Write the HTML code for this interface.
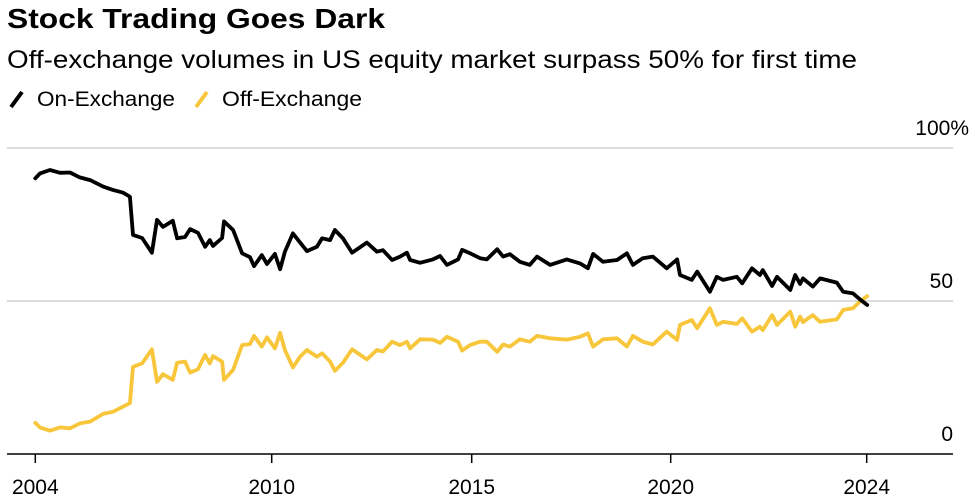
<!DOCTYPE html>
<html><head><meta charset="utf-8"><style>
body{margin:0;background:#fff;width:972px;height:502px;overflow:hidden;font-family:"Liberation Sans",Arial,sans-serif}
svg{display:block}
</style></head><body>
<svg id="chart" width="972" height="502" viewBox="0 0 972 502" xmlns="http://www.w3.org/2000/svg">
<text x="7" y="28" font-size="28" font-weight="bold" fill="#000" textLength="378" lengthAdjust="spacingAndGlyphs" font-family="Liberation Sans, sans-serif">Stock Trading Goes Dark</text>
<text x="7" y="68" font-size="25" fill="#000" textLength="850" lengthAdjust="spacingAndGlyphs" font-family="Liberation Sans, sans-serif">Off-exchange volumes in US equity market surpass 50% for first time</text>
<g>
<line x1="11" y1="107" x2="22" y2="92" stroke="#000" stroke-width="4"/>
<text x="37" y="106" font-size="21" fill="#000" textLength="138" lengthAdjust="spacingAndGlyphs" font-family="Liberation Sans, sans-serif">On-Exchange</text>
<line x1="196" y1="107" x2="207" y2="92" stroke="#f7c63a" stroke-width="4"/>
<text x="222" y="106" font-size="21" fill="#000" textLength="140" lengthAdjust="spacingAndGlyphs" font-family="Liberation Sans, sans-serif">Off-Exchange</text>
</g>
<g id="grid"></g>
<g id="xaxis"></g>
<g id="series"></g>
</svg>
<script>
const dates=[2004.0,2004.12,2004.37,2004.63,2004.88,2005.13,2005.39,2005.72,2005.97,2006.23,2006.4,2006.48,2006.71,2006.96,2007.09,2007.24,2007.49,2007.6,2007.8,2007.93,2008.13,2008.31,2008.43,2008.51,2008.74,2008.79,2009.02,2009.25,2009.45,2009.55,2009.75,2009.88,2010.08,2010.21,2010.33,2010.53,2010.71,2010.88,2011.13,2011.26,2011.46,2011.58,2011.78,2012.01,2012.38,2012.63,2012.78,2013.01,2013.21,2013.38,2013.46,2013.71,2014.03,2014.21,2014.38,2014.66,2014.76,2014.96,2015.21,2015.38,2015.64,2015.79,2015.96,2016.21,2016.46,2016.64,2016.97,2017.39,2017.72,2017.92,2018.05,2018.3,2018.65,2018.9,2019.05,2019.3,2019.55,2019.9,2020.13,2020.19,2020.43,2020.54,2020.8,2020.94,2021.07,2021.35,2021.46,2021.66,2021.82,2021.88,2022.07,2022.17,2022.44,2022.54,2022.64,2022.7,2022.9,2023.05,2023.39,2023.52,2023.72,2023.86,2024.01];
const onExchange=[90.1,91.7,92.8,91.9,92,90.4,89.5,87.4,86.3,85.4,84.1,71.6,70.6,65.8,76.5,74.2,76.2,70.5,70.9,73.5,72.3,67.7,69.9,68,70.6,76,73.2,65.6,64.3,61.4,65,62.1,65.4,60.4,66.1,72.1,69.1,66.3,67.7,70.5,69.9,73.2,70.5,65.8,69.1,66.1,66.6,63.4,64.5,65.8,63.4,62.5,63.6,64.7,61.8,63.6,66.7,65.6,64,63.6,66.9,64.5,65.3,62.8,61.8,64.5,61.8,63.6,62.3,60.7,65.4,62.8,63.4,65.6,61.8,64,64.5,60.7,63.6,58.5,56.9,59.6,53,57.9,56.9,57.9,55.8,60.7,58.5,60.1,54.9,57.9,53.6,58.5,55.6,57.4,54.7,57.4,56,53,52.5,50.6,48.7];
const offExchange=[10.2,8.7,7.6,8.7,8.4,10,10.6,13.1,13.8,15.5,16.6,28.5,29.6,34.2,23.6,26.1,24.2,29.8,30.2,26.6,27.7,32.4,29.6,32,30.2,24.2,27.5,35.6,35.9,38.6,35.1,38.1,34.5,39.6,34,28.3,31.8,34,31.8,32.9,30.2,27.2,29.8,34.2,30.9,34,33.5,36.7,35.6,36.7,34.5,37.5,37.4,36.3,38.3,36.7,33.8,35.6,36.7,36.7,33.4,35.8,35.1,37.5,36.7,38.6,37.8,37.4,38.3,39.4,35.1,37.5,37.8,35.1,38.6,36.7,35.8,40,37.3,42.2,43.8,41.1,47.6,42.2,43.2,42.5,44.3,40,41.6,40.5,45.4,42.2,46.5,41.6,44.9,43.1,45.4,43.2,44,47.1,47.6,49.8,51.6];
const xTickYears=[2004,2010,2015,2020,2024];
const xTickLabels=["2004","2010","2015","2020","2024"];
const yTicks=[100,50,0];
const yTickLabels=["100%","50","0"];

const NS="http://www.w3.org/2000/svg";
const ax=[[2004,35.3],[2010,271.7],[2015,471.7],[2020,670.7],[2024,866.7],[2026,964.7]];
function xs(t){for(let i=0;i<ax.length-1;i++){const a=ax[i],b=ax[i+1];if(t<=b[0]||i===ax.length-2)return a[1]+(t-a[0])*(b[1]-a[1])/(b[0]-a[0]);}}
function ys(v){return 454-v*3.06;}
function mk(tag,attrs,parent){const e=document.createElementNS(NS,tag);for(const k in attrs)e.setAttribute(k,attrs[k]);parent.appendChild(e);return e;}
const grid=document.getElementById('grid'),xa=document.getElementById('xaxis'),ser=document.getElementById('series');
yTicks.forEach((v,i)=>{
  if(v!==0){const l=mk('line',{x1:7,x2:953,y1:ys(v),y2:ys(v),stroke:'#dcdcdc','stroke-width':2},grid);
  
  }
  const t=mk('text',{x:(v===100?969:953),y:ys(v)-13,'text-anchor':'end','font-size':21,fill:'#000','font-family':'Liberation Sans, sans-serif'},grid);
  t.textContent=yTickLabels[i];
  
  
});
const base=mk('line',{x1:7,x2:953,y1:454,y2:454,stroke:'#000','stroke-width':1.5},xa);


xTickYears.forEach((yr,i)=>{
  const x=xs(yr);
  const tk=mk('line',{x1:x,x2:x,y1:454,y2:463,stroke:'#000','stroke-width':1.5},xa);
  
  
  const t=mk('text',{x:x,y:494,'text-anchor':'middle','font-size':21,fill:'#000','font-family':'Liberation Sans, sans-serif'},xa);
  t.textContent=xTickLabels[i];
  
  
});
function line(vals,color,name){
  const d=vals.map((v,i)=>(i?'L':'M')+xs(dates[i]).toFixed(1)+','+ys(v).toFixed(1)).join('');
  const p=mk('path',{d:d,fill:'none',stroke:color,'stroke-width':3.8,'stroke-linejoin':'round','stroke-linecap':'round'},ser);
  
  
}
line(offExchange,'#f7c63a','off-exchange-line');
line(onExchange,'#000','on-exchange-line');
</script>
</body></html>
